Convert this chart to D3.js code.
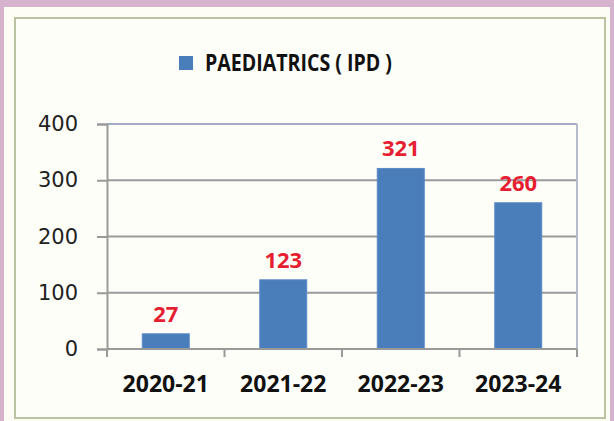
<!DOCTYPE html>
<html lang="en">
<head>
    <meta charset="UTF-8">
    <title>Paediatrics IPD</title>
    <script src="https://d3js.org/d3.v7.min.js"></script>
    <style>
        body { margin: 0; background: #d6b3cd; }
        .axis text { font-family: "DejaVu Sans", sans-serif; font-size: 21px; fill: #222; }
        .xlab { font-family: "Open Sans", sans-serif; font-weight: bold; font-size: 23px; fill: #111; }
        .val { font-family: "Open Sans", sans-serif; font-weight: bold; font-size: 22px; fill: #e61e32; }
        .title { font-family: "Open Sans", sans-serif; font-weight: bold; font-size: 24px; fill: #111; }
    </style>
</head>
<body>
<script>
    var categories = ['2020-21', '2021-22', '2022-23', '2023-24'];
    var values = [27, 123, 321, 260];
    var yTicks = [0, 100, 200, 300, 400];
    var seriesName = 'PAEDIATRICS ( IPD )';

    var width = 614;
    var height = 421;
    var plotLeft = 107, plotRight = 577, plotTop = 124, plotBottom = 349;

    var svg = d3.select('body')
        .append('svg')
        .attr('width', width)
        .attr('height', height)
        .style('display', 'block');

    // white sheet and framed chart area
    svg.append('rect')
        .attr('x', 4).attr('y', 7)
        .attr('width', 606).attr('height', 414)
        .attr('fill', '#fdfdf6');
    svg.append('rect')
        .attr('x', 15).attr('y', 18)
        .attr('width', 590).attr('height', 400)
        .attr('fill', '#fefef9')
        .attr('stroke', '#bcc3a2')
        .attr('stroke-width', 2);

    var xscale = d3.scaleBand()
        .domain(categories)
        .range([plotLeft, plotRight])
        .paddingInner(0.6)
        .paddingOuter(0.3);

    var yscale = d3.scaleLinear()
        .domain([0, 400])
        .range([plotBottom, plotTop]);

    // gridlines
    svg.selectAll('.grid')
        .data(yTicks.slice(1))
        .enter()
        .append('line')
        .attr('x1', plotLeft)
        .attr('x2', plotRight)
        .attr('y1', yscale)
        .attr('y2', yscale)
        .attr('stroke', function (d) { return d === 400 ? '#a4abc6' : '#9a9a9a'; })
        .attr('stroke-width', 2);

    // right border of plot
    svg.append('line')
        .attr('x1', plotRight).attr('x2', plotRight)
        .attr('y1', plotTop).attr('y2', plotBottom)
        .attr('stroke', '#b4bccc')
        .attr('stroke-width', 2);

    var yaxis = d3.axisLeft(yscale)
        .tickValues(yTicks)
        .tickSize(10)
        .tickPadding(19);

    var y = svg.append('g')
        .attr('transform', 'translate(' + plotLeft + ',0)')
        .attr('class', 'axis')
        .call(yaxis);
    y.select('.domain').attr('stroke', '#999').attr('stroke-width', 2);
    y.selectAll('.tick line').attr('stroke', '#999').attr('stroke-width', 2);

    // bars
    svg.selectAll('.bar')
        .data(values)
        .enter()
        .append('rect')
        .attr('x', function (d, i) { return xscale(categories[i]); })
        .attr('y', function (d) { return yscale(d); })
        .attr('width', xscale.bandwidth())
        .attr('height', function (d) { return plotBottom - yscale(d); })
        .attr('fill', '#4a7ebb')
        .attr('stroke', '#5b8bc6')
        .attr('stroke-width', 1);

    // x axis with ticks between categories
    var bounds = d3.range(categories.length + 1).map(function (i) {
        return plotLeft + i * xscale.step();
    });
    svg.append('line')
        .attr('x1', plotLeft).attr('x2', plotRight)
        .attr('y1', plotBottom).attr('y2', plotBottom)
        .attr('stroke', '#999')
        .attr('stroke-width', 2);
    svg.selectAll('.xtick')
        .data(bounds)
        .enter()
        .append('line')
        .attr('x1', function (d) { return d; })
        .attr('x2', function (d) { return d; })
        .attr('y1', plotBottom)
        .attr('y2', plotBottom + 8)
        .attr('stroke', '#999')
        .attr('stroke-width', 2);

    svg.selectAll('.xlab')
        .data(categories)
        .enter()
        .append('text')
        .attr('class', 'xlab')
        .attr('x', function (d) { return xscale(d) + xscale.bandwidth() / 2; })
        .attr('y', 392)
        .attr('text-anchor', 'middle')
        .text(function (d) { return d; });

    // value labels
    svg.selectAll('.val')
        .data(values)
        .enter()
        .append('text')
        .attr('class', 'val')
        .attr('x', function (d, i) { return xscale(categories[i]) + xscale.bandwidth() / 2; })
        .attr('y', function (d) { return yscale(d) - 12; })
        .attr('text-anchor', 'middle')
        .text(function (d) { return d; });

    // legend as title
    var legend = svg.append('g');
    legend.append('rect')
        .attr('x', 179).attr('y', 56)
        .attr('width', 14).attr('height', 14)
        .attr('fill', '#4a7ebb');
    legend.append('text')
        .attr('class', 'title')
        .attr('x', 205)
        .attr('y', 71)
        .attr('textLength', 187)
        .attr('lengthAdjust', 'spacingAndGlyphs')
        .text(seriesName);
</script>
</body>
</html>
